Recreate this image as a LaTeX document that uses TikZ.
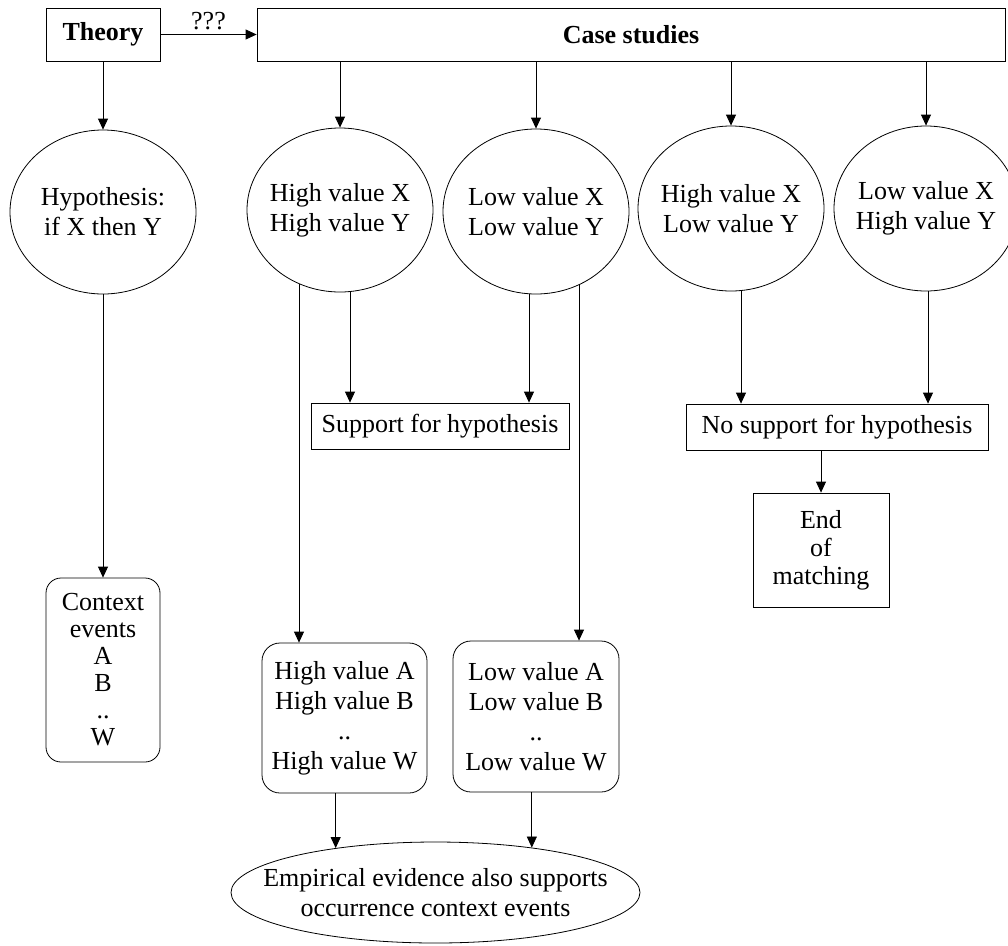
\documentclass[tikz,border=0pt]{standalone}
\usepackage{fontspec}
\setmainfont{Liberation Serif}
\usetikzlibrary{shapes.geometric,arrows.meta,backgrounds}
\begin{document}
\begin{tikzpicture}[x=1pt,y=-1pt,
  txt/.style={font=\fontsize{26}{30}\selectfont},
  nd/.style={txt, align=center, inner sep=0pt, draw, fill=white, line width=0.8pt},
  sqbox/.style={nd, rectangle},
  bold/.style={font=\bfseries\fontsize{26}{30}\selectfont},
  rbox/.style={nd, rectangle, rounded corners=18pt},
  ell/.style={nd, ellipse, inner xsep=-15pt},
  lbl/.style={txt, draw=none, fill=none, inner sep=0pt},
  arr/.style={-{Triangle[width=10pt,length=11pt]}, line width=0.8pt}]
\useasboundingbox (0,0) rectangle (1008,945);

% top row
\node[sqbox, bold, minimum width=114pt, minimum height=53pt] (theory) at (103,34.5) {Theory};
\node[sqbox, bold, minimum width=748pt, minimum height=53pt] (case) at (631,34.5) {Case studies};

% ellipses
\node[ell, minimum width=186pt, minimum height=164pt] (hyp) at (103,212) {Hypothesis:\\if X then Y};
\node[ell, minimum width=186pt, minimum height=164pt] (hh) at (340,210) {High value X\\High value Y};
\node[ell, minimum width=186pt, minimum height=165pt] (ll) at (536,211.5) {Low value X\\Low value Y};
\node[ell, minimum width=186pt, minimum height=165pt] (hl) at (731,208.5) {High value X\\Low value Y};
\node[ell, minimum width=184pt, minimum height=165pt] (lh) at (926,208.5) {Low value X\\High value Y};

% support boxes
\node[sqbox, minimum width=258pt, minimum height=46pt] (sup) at (440,426) {Support for hypothesis};
\node[sqbox, minimum width=302pt, minimum height=46pt] (nosup) at (837,427) {No support for hypothesis};
\node[sqbox, minimum width=136pt, minimum height=114pt] (endbox) at (821,550) {End\\[-2pt]of\\[-2pt]matching};

% context boxes
\node[rbox, rounded corners=15pt, minimum width=114pt, minimum height=184pt] (ctx) at (103,670) {Context\\[-3pt]events\\[-3pt]A\\[-3pt]B\\[-3pt]..\\[-3pt]W};
\node[rbox, minimum width=165pt, minimum height=150pt] (hbox) at (344.5,718) {High value A\\High value B\\..\\High value W};
\node[rbox, minimum width=166pt, minimum height=151pt] (lbox) at (536,716.5) {Low value A\\Low value B\\..\\Low value W};

% bottom ellipse
\node[ell, inner xsep=-40pt, minimum width=409pt, minimum height=101pt] (ev) at (435.5,892.5) {Empirical evidence also supports\\occurrence context events};

% x positions of the drop lines
\coordinate (c1) at (299,0);
\coordinate (c2) at (350,0);
\coordinate (c3) at (529,0);
\coordinate (c4) at (579,0);
\coordinate (c5) at (741,0);
\coordinate (c6) at (928,0);

% connectors
\draw[arr] (theory) -- node[lbl, above=4pt] {???} (case);
\draw[arr] (theory) -- (hyp);
\draw[arr] (hyp) -- (ctx);
\draw[arr] (case.south -| hh.north) -- (hh.north);
\draw[arr] (case.south -| ll.north) -- (ll.north);
\draw[arr] (case.south -| hl.north) -- (hl.north);
\draw[arr] (case.south -| lh.north) -- (lh.north);
\begin{scope}[on background layer]
\draw[arr] (hh.center -| c1) -- (c1 |- hbox.north);
\draw[arr] (hh.center -| c2) -- (c2 |- sup.north);
\draw[arr] (ll.center -| c3) -- (c3 |- sup.north);
\draw[arr] (ll.center -| c4) -- (c4 |- lbox.north);
\draw[arr] (hl.center -| c5) -- (c5 |- nosup.north);
\draw[arr] (lh.center -| c6) -- (c6 |- nosup.north);
\end{scope}
\draw[arr] (nosup.south -| endbox.north) -- (endbox.north);
\draw[arr] (hbox.south -| ev.156) -- (ev.156);
\draw[arr] (lbox.south -| ev.25) -- (ev.25);
\end{tikzpicture}
\end{document}
